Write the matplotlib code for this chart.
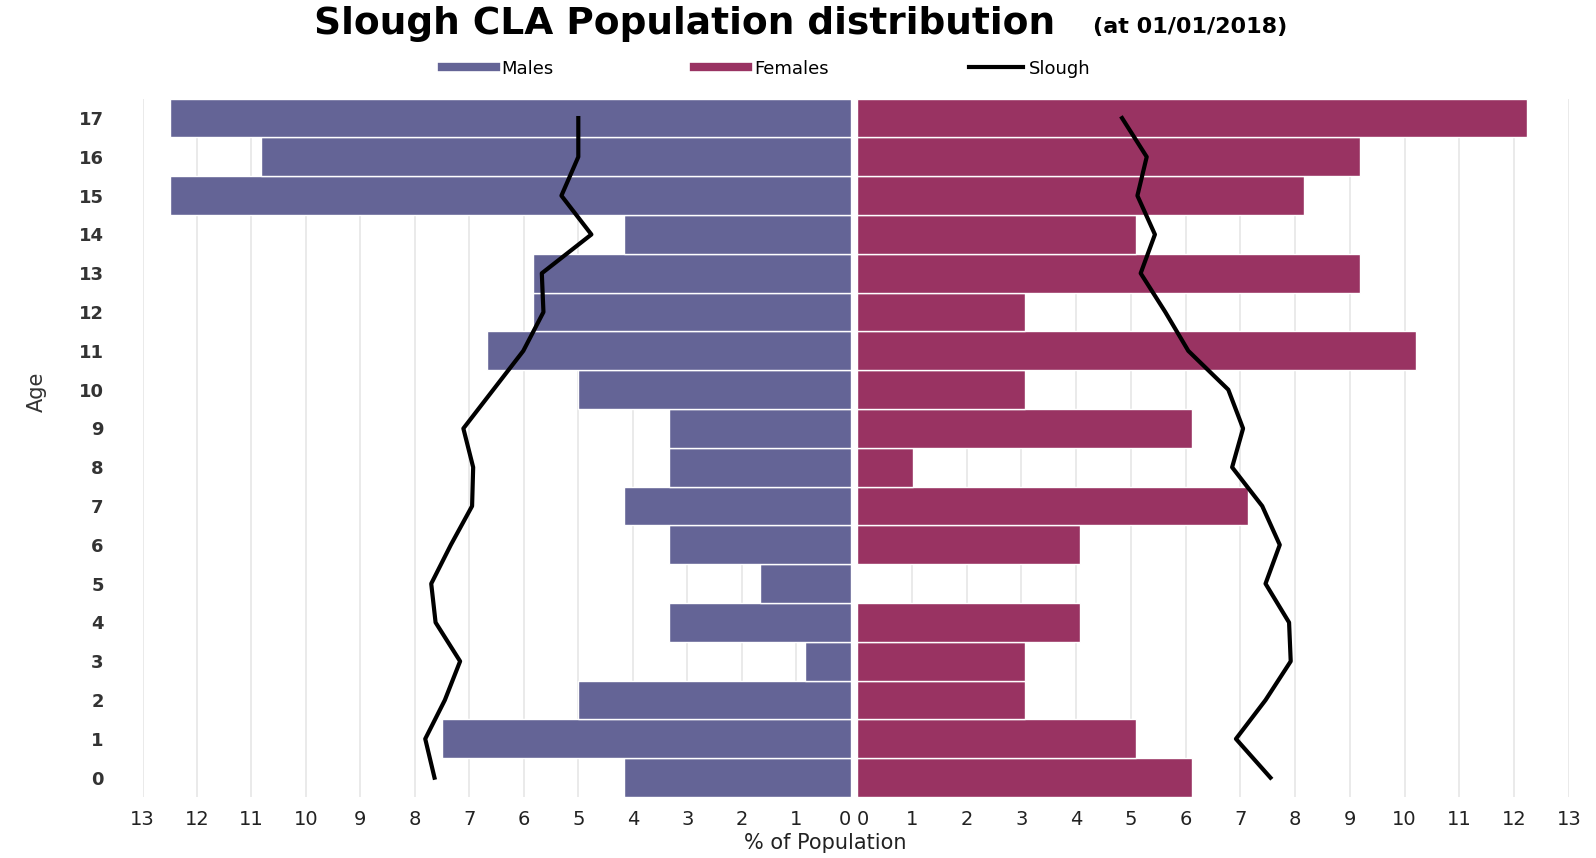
import numpy as np
import matplotlib.pyplot as plt
from matplotlib.lines import Line2D

ages = list(range(18))
# % of CLA population by age (0..17)
males = [4.17, 7.5, 5.0, 0.83, 3.33, 1.67, 3.33, 4.17, 3.33, 3.33,
         5.0, 6.67, 5.83, 5.83, 4.17, 12.5, 10.83, 12.5]
females = [6.12, 5.10, 3.06, 3.06, 4.08, 0.0, 4.08, 7.14, 1.02, 6.12,
           3.06, 10.2, 3.06, 9.18, 5.10, 8.16, 9.18, 12.24]
slough_m = [7.64, 7.81, 7.45, 7.17, 7.62, 7.70, 7.34, 6.95, 6.93, 7.11,
            6.56, 6.01, 5.64, 5.67, 4.76, 5.31, 5.0, 5.0]
slough_f = [7.55, 6.92, 7.46, 7.92, 7.89, 7.46, 7.72, 7.40, 6.85, 7.05,
            6.78, 6.05, 5.63, 5.18, 5.44, 5.12, 5.29, 4.84]
xticks = list(range(14))

male_col = '#646496'
fem_col = '#993362'
grid_col = '#e6e6e6'

plt.rcParams['font.family'] = 'DejaVu Sans'
fig = plt.figure(figsize=(15.96, 8.58), dpi=100)
axl = fig.add_axes([0.0893, 0.071, 0.4437, 0.814])
axr = fig.add_axes([0.537, 0.071, 0.446, 0.814])

axl.barh(ages, males, height=1.0, color=male_col, edgecolor='white', linewidth=1, zorder=2)
axl.plot(slough_m, ages, color='black', lw=3, zorder=3)
axr.barh(ages, females, height=1.0, color=fem_col, edgecolor='white', linewidth=1, zorder=2)
axr.plot(slough_f, ages, color='black', lw=3, zorder=3)

axl.set_xlim(13, 0)
axr.set_xlim(0, 13)
for ax in (axl, axr):
    ax.set_ylim(-0.5, 17.5)
    ax.set_xticks(xticks)
    ax.set_xticklabels([str(t) for t in xticks], fontsize=14, color='#222222')
    ax.grid(axis='x', color=grid_col, lw=1.2, zorder=0)
    ax.set_axisbelow(True)
    for s in ax.spines.values():
        s.set_visible(False)
    ax.tick_params(length=0, pad=9)

# keep the two "0" labels apart at the centre
axl.get_xticklabels()[0].set_ha('right')
axr.get_xticklabels()[0].set_ha('left')

axl.set_yticks(ages)
axl.set_yticklabels([str(a) for a in ages], fontsize=13, fontweight='bold', color='#333333')
axl.tick_params(axis='y', pad=28)
axr.set_yticks([])

fig.text(0.023, 0.543, 'Age', fontsize=15, rotation=90, ha='center', va='center', color='#333333')
fig.text(0.517, 0.0175, '% of Population', fontsize=15, ha='center', va='center', color='#222222')

fig.text(0.197, 0.972, 'Slough CLA Population distribution', fontsize=27, fontweight='bold',
         ha='left', va='center')
fig.text(0.685, 0.969, '(at 01/01/2018)', fontsize=16, fontweight='bold', ha='left', va='center')

handles = [Line2D([], [], color=male_col, lw=6),
           Line2D([], [], color=fem_col, lw=6),
           Line2D([], [], color='black', lw=3)]
fig.legend(handles, ['Males', 'Females', 'Slough'], loc='center', bbox_to_anchor=(0.48, 0.92),
           ncol=3, frameon=False, fontsize=13, handlelength=3, handletextpad=0.3,
           columnspacing=7.8)

plt.savefig('out.png', dpi=100)
